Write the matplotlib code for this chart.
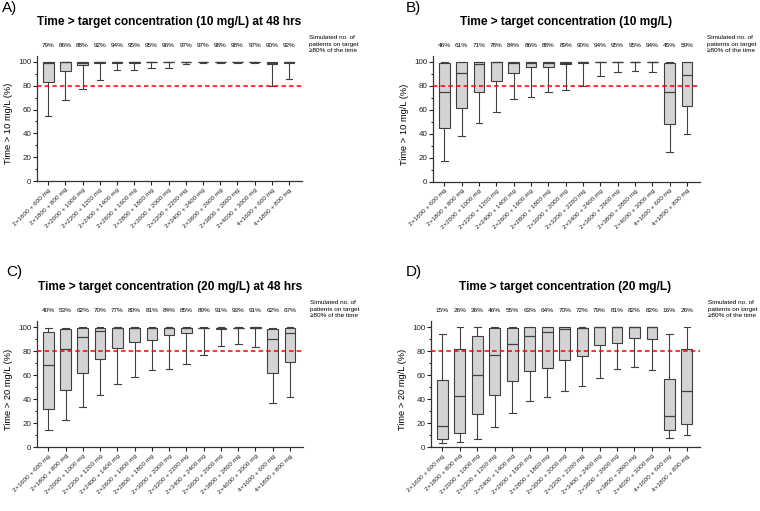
import matplotlib
matplotlib.use("Agg")
import matplotlib.pyplot as plt
from matplotlib.ticker import MultipleLocator

plt.rcParams["font.family"] = ["Liberation Sans", "DejaVu Sans"]

# x categories (dosing regimens)
regimens = ["2×1600 + 600 mg", "2×1800 + 800 mg", "2×2000 + 1000 mg", "2×2200 + 1200 mg",
            "2×2400 + 1400 mg", "2×2600 + 1600 mg", "2×2800 + 1800 mg", "2×3000 + 2000 mg",
            "2×3200 + 2200 mg", "2×3400 + 2400 mg", "2×3600 + 2600 mg", "2×3800 + 2800 mg",
            "2×4000 + 3000 mg", "4×1600 + 600 mg", "4×1800 + 800 mg"]

# panel A: 10 mg/L at 48 hrs
low_a = [55, 68, 77, 85, 93, 93, 95, 95, 98, 99.3, 99.5, 99.5, 99.3, 80, 86]
q1_a = [83.5, 92, 97.8, 99, 99.5, 99.5, 99.6, 99.6, 99.7, 99.8, 99.8, 99.8, 99.8, 98.5, 99]
med_a = [99.5, 99.6, 99.3, 99.7, 99.8, 99.8, 99.8, 99.8, 99.9, 99.9, 99.9, 99.9, 99.9, 99.5, 99.7]
q3_a = [99.8, 100, 99.8, 100, 100, 100, 100, 100, 100, 100, 100, 100, 100, 99.8, 100]
high_a = [100, 100, 100, 100, 100, 100, 100, 100, 100, 100, 100, 100, 100, 100, 100]
pct_a = [79, 86, 88, 92, 94, 95, 95, 96, 97, 97, 98, 98, 97, 90, 92]

# panel B: 10 mg/L
low_b = [17.5, 38.5, 49, 58.5, 69, 71, 75, 77, 80, 88.5, 91.5, 92.5, 92, 24.5, 40]
q1_b = [45, 61.5, 75, 84, 91, 96, 95.5, 98, 99.5, 99.7, 99.8, 99.8, 99.8, 48, 63]
med_b = [75, 90.5, 98, 99.8, 99.5, 99, 99, 99.5, 99.8, 99.9, 99.9, 99.9, 99.9, 75, 89]
q3_b = [99.5, 100, 100, 100, 100, 100, 100, 100, 100, 100, 100, 100, 100, 99, 100]
high_b = [100, 100, 100, 100, 100, 100, 100, 100, 100, 100, 100, 100, 100, 100, 100]
pct_b = [46, 61, 71, 78, 84, 86, 88, 89, 90, 94, 95, 95, 94, 45, 59]

# panel C: 20 mg/L at 48 hrs
low_c = [14, 22.5, 33.5, 43.5, 52.5, 58, 64, 65, 69.5, 77, 84.5, 86, 83.5, 37, 42]
q1_c = [32, 47.5, 62, 73, 82.5, 87.5, 89, 93.5, 95, 99, 98.5, 99, 99.2, 61.5, 71]
med_c = [68.5, 82, 91.5, 96.5, 99, 99, 99, 99, 99, 99.3, 99, 99.3, 99.4, 90, 95]
q3_c = [96, 98.5, 99, 99.5, 99.5, 99.5, 99.5, 99.5, 99.5, 99.5, 99.5, 99.5, 99.6, 98.5, 99.5]
high_c = [99, 99.5, 99.7, 99.8, 99.8, 99.8, 99.8, 99.8, 99.8, 99.8, 99.8, 99.8, 99.8, 99.3, 99.8]
pct_c = [40, 53, 62, 70, 77, 80, 81, 84, 85, 89, 91, 93, 91, 62, 67]

# panel D: 20 mg/L
low_d = [3, 4.5, 7, 17, 28.5, 38, 42, 46.5, 51, 57.5, 65, 66.5, 64, 7.5, 10]
q1_d = [6.5, 12, 27.5, 43.5, 55, 63, 65.5, 72.5, 76, 85, 86.5, 91, 90, 14, 19]
med_d = [17.5, 42.5, 60, 76.5, 86, 92.5, 96, 98.5, 99, 99.8, 99.8, 99.8, 99.8, 26, 46.5]
q3_d = [56, 82, 92.5, 99.5, 99.5, 100, 100, 100, 99.5, 100, 100, 100, 100, 56.5, 81.5]
high_d = [94, 100, 100, 100, 100, 100, 100, 100, 100, 100, 100, 100, 100, 94.5, 100]
pct_d = [15, 26, 36, 46, 55, 63, 64, 70, 72, 79, 81, 82, 82, 16, 26]

W, H = 760, 511
fig = plt.figure(figsize=(W / 100, H / 100), dpi=100)


def fig_axes(left, right, top, bottom):
    # pixel box (top-left origin) -> figure fraction
    return fig.add_axes([left / W, 1 - bottom / H, (right - left) / W, (bottom - top) / H])


def draw_panel(ax, low, q1, med, q3, high, pct, title, ylabel, letter, letter_xy):
    stats = []
    for i in range(len(regimens)):
        stats.append(dict(whislo=low[i], q1=q1[i], med=med[i], q3=q3[i], whishi=high[i], fliers=[]))
    edge = "#404040"
    ax.bxp(stats, positions=range(len(regimens)), widths=0.62, capwidths=0.38,
           patch_artist=True, showfliers=False, manage_ticks=False,
           boxprops=dict(facecolor="#d4d4d4", edgecolor=edge, linewidth=0.8),
           whiskerprops=dict(color=edge, linewidth=0.8),
           capprops=dict(color=edge, linewidth=0.8),
           medianprops=dict(color=edge, linewidth=0.9))
    ax.axhline(80, color="red", linestyle=(0, (3, 2)), linewidth=1.1, zorder=5)

    ax.set_xlim(-0.65, 14.75)
    ax.set_ylim(0, 105)
    ax.set_xticks(range(len(regimens)))
    ax.set_xticklabels(regimens, rotation=45, ha="right", rotation_mode="anchor", fontsize=4.6)
    ax.set_yticks([0, 20, 40, 60, 80, 100])
    ax.yaxis.set_minor_locator(MultipleLocator(10))
    ax.tick_params(axis="y", labelsize=5.8, length=2.6, width=0.8, pad=1.5, colors="#222222")
    ax.tick_params(axis="y", which="minor", length=1.6, width=0.8, colors="#222222")
    ax.tick_params(axis="x", length=2.6, width=0.8, pad=2, colors="#222222")
    for side in ["top", "right"]:
        ax.spines[side].set_visible(False)
    for side in ["left", "bottom"]:
        ax.spines[side].set_linewidth(0.9)
        ax.spines[side].set_color("#333333")

    ax.set_ylabel(ylabel, fontsize=6.7)
    ax.yaxis.set_label_coords(-0.09, 0.46)

    for i, p in enumerate(pct):
        ax.text(i, 114, f"{p}%", ha="center", va="center", fontsize=4.6, clip_on=False)
    ax.text(1.028, 115, "Simulated no. of\npatients on target\n≥80% of the time",
            transform=ax.get_yaxis_transform(), ha="left", va="center",
            fontsize=4.6, linespacing=1.3, clip_on=False)

    ax.set_title(title, fontsize=8.6, fontweight="bold", pad=22)
    fig.text(letter_xy[0] / W, 1 - letter_xy[1] / H, letter, fontsize=11,
             ha="left", va="center")


ax_a = fig_axes(37, 302, 56, 181)
draw_panel(ax_a, low_a, q1_a, med_a, q3_a, high_a, pct_a,
           "Time > target concentration (10 mg/L) at 48 hrs", "Time > 10 mg/L (%)", "A)", (2, 8))

ax_b = fig_axes(433, 700, 56, 181.7)
draw_panel(ax_b, low_b, q1_b, med_b, q3_b, high_b, pct_b,
           "Time > target concentration (10 mg/L)", "Time > 10 mg/L (%)", "B)", (406, 8))

ax_c = fig_axes(37, 303, 321, 447)
draw_panel(ax_c, low_c, q1_c, med_c, q3_c, high_c, pct_c,
           "Time > target concentration (20 mg/L) at 48 hrs", "Time > 20 mg/L (%)", "C)", (6, 272))

ax_d = fig_axes(431, 700, 321, 447)
draw_panel(ax_d, low_d, q1_d, med_d, q3_d, high_d, pct_d,
           "Time > target concentration (20 mg/L)", "Time > 20 mg/L (%)", "D)", (406, 272))

fig.savefig("out.png", dpi=100)
